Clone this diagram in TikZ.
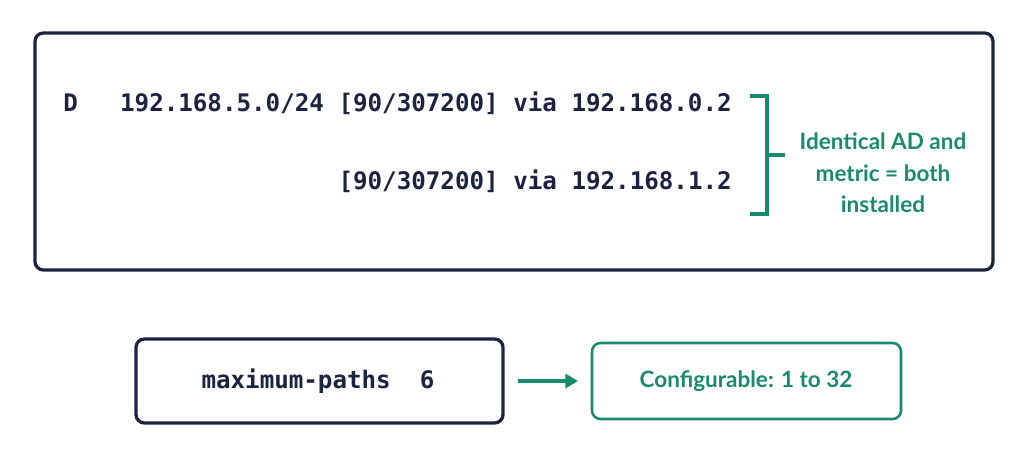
\documentclass[tikz,border=0pt]{standalone}
\usepackage{fontspec}
\setmainfont{Lato}
\newfontfamily\codefont{DejaVu Sans Mono}
\usetikzlibrary{arrows.meta}
\definecolor{navy}{HTML}{1B2340}
\definecolor{teal}{HTML}{1A8A6E}
\begin{document}
\begin{tikzpicture}[x=0.025cm,y=-0.025cm,
  box/.style={draw=navy,line width=2.3pt,rounded corners=6pt},
  gbox/.style={draw=teal,line width=1.8pt,rounded corners=6pt},
  code/.style={font=\codefont\bfseries\fontsize{17.2}{20}\selectfont,text=navy,inner sep=0},
  note/.style={font=\bfseries\fontsize{16}{22.5}\selectfont,text=teal,align=center,inner sep=0}]
\useasboundingbox (0,0) rectangle (1024,452);
\draw[box] (35,33) rectangle (993,270);
\node[code,anchor=west] (d) at (63,103) {D};
\node[code,anchor=east] (l1) at (732,103) {192.168.5.0/24 [90/307200] via 192.168.0.2};
\node[code,anchor=east] (l2) at (732,181) {[90/307200] via 192.168.1.2};
\coordinate (bt) at (767,96);
\coordinate (bb) at (767,214);
\coordinate (bm) at (767,155);
\draw[teal,line width=2.2pt] (750,96) -- (bt) -- (bb) -- (750,214);
\draw[teal,line width=2.2pt] (bm) -- (785,155);
\node[note] (n) at (883,173) {Identical AD and\\metric = both\\installed};
\draw[box] (136,339) rectangle (503,423);
\node[code] (mp) at (318,381) {maximum-paths\ \ 6};
\draw[gbox] (592,343) rectangle (901,419);
\node[note] (cf) at (746,381) {Configurable: 1 to 32};
\coordinate (a1) at (518,381);
\coordinate (a2) at (578,381);
\draw[teal,line width=2.2pt,-{Triangle[length=9pt,width=10pt]}] (a1) -- (a2);
\end{tikzpicture}
\end{document}
